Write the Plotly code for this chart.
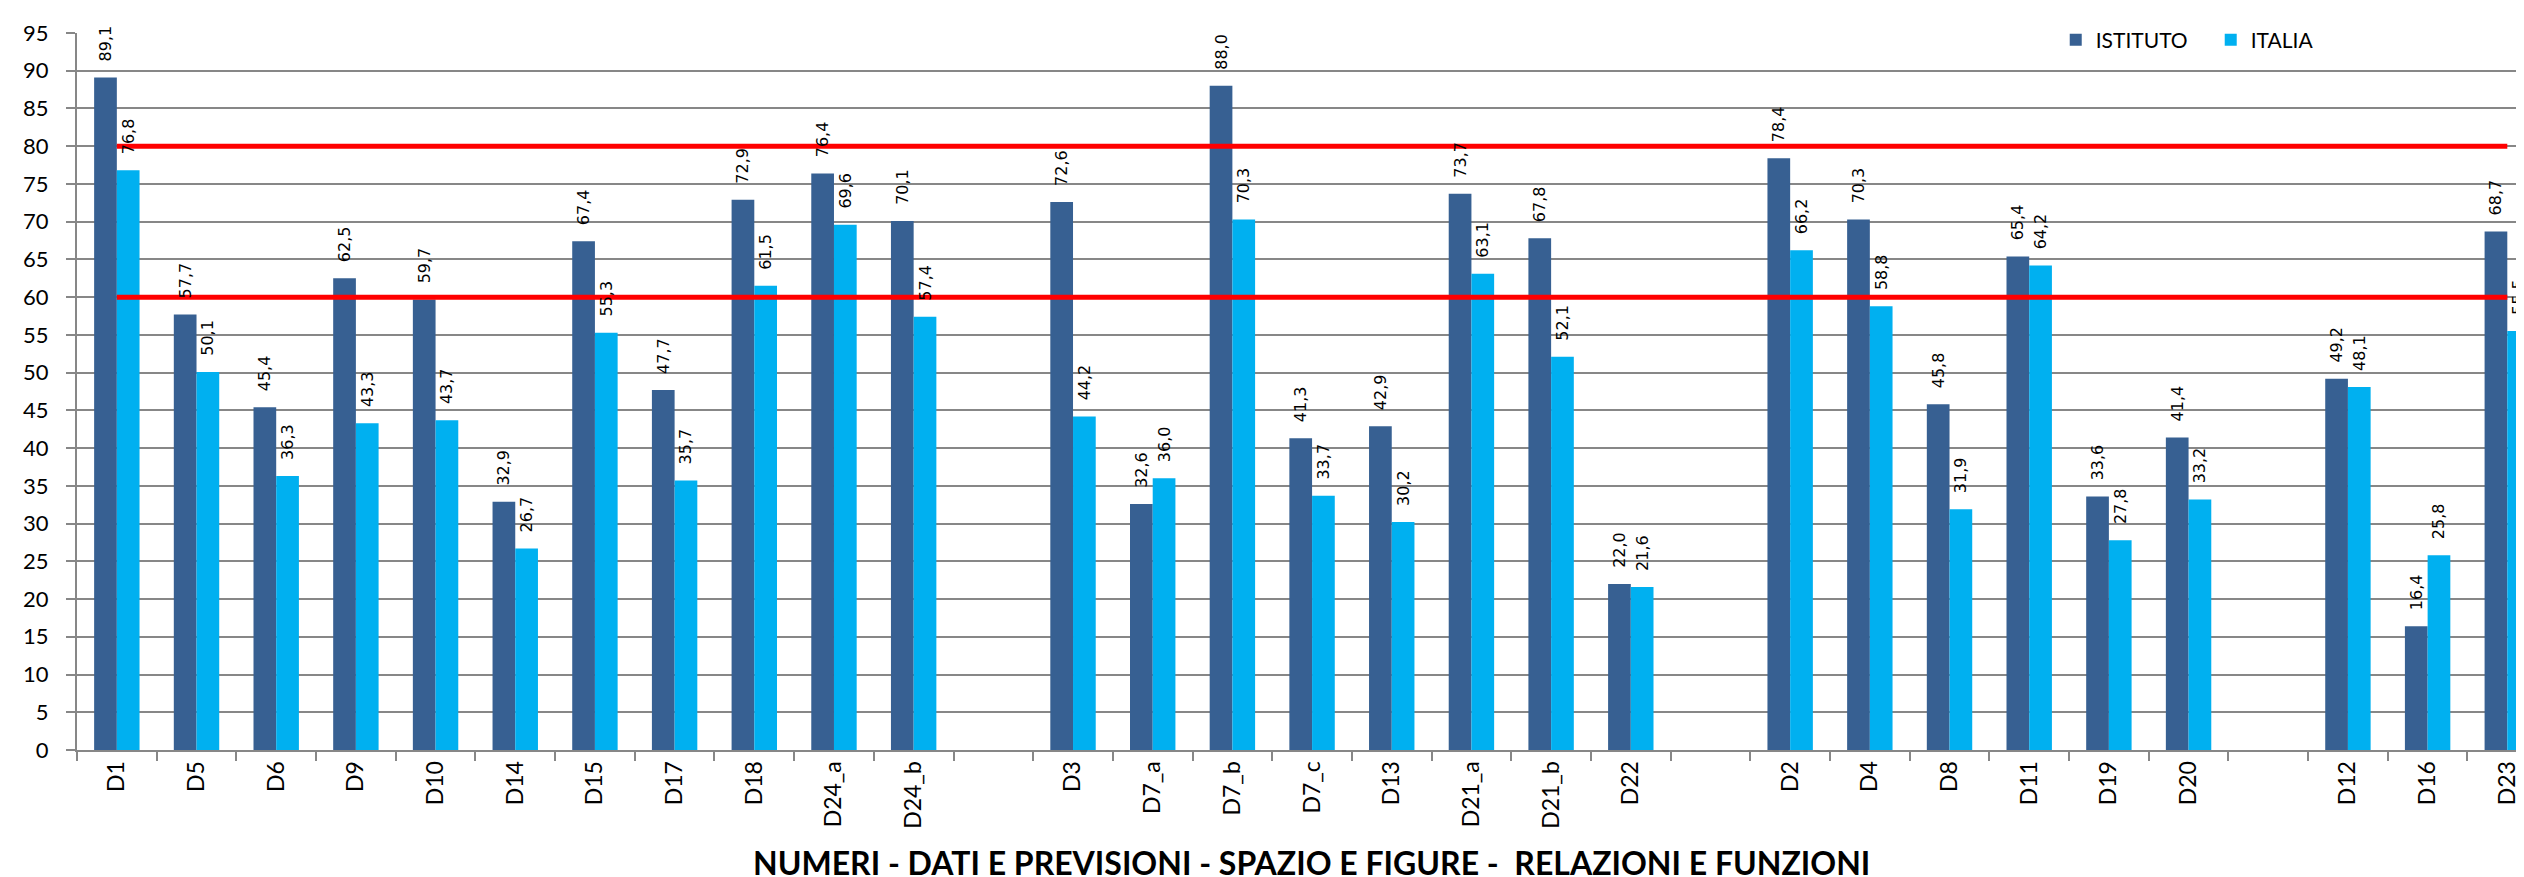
import plotly.graph_objects as go

categories = ["D1", "D5", "D6", "D9", "D10", "D14", "D15", "D17", "D18", "D24_a", "D24_b", " ",
              "D3", "D7_a", "D7_b", "D7_c", "D13", "D21_a", "D21_b", "D22", "  ",
              "D2", "D4", "D8", "D11", "D19", "D20", "   ",
              "D12", "D16", "D23"]

istituto = [89.1, 57.7, 45.4, 62.5, 59.7, 32.9, 67.4, 47.7, 72.9, 76.4, 70.1, None,
            72.6, 32.6, 88.0, 41.3, 42.9, 73.7, 67.8, 22.0, None,
            78.4, 70.3, 45.8, 65.4, 33.6, 41.4, None,
            49.2, 16.4, 68.7]

italia = [76.8, 50.1, 36.3, 43.3, 43.7, 26.7, 55.3, 35.7, 61.5, 69.6, 57.4, None,
          44.2, 36.0, 70.3, 33.7, 30.2, 63.1, 52.1, 21.6, None,
          66.2, 58.8, 31.9, 64.2, 27.8, 33.2, None,
          48.1, 25.8, 55.5]

soglia_alta = [80] * len(categories)
soglia_bassa = [60] * len(categories)

x_title = "NUMERI - DATI E PREVISIONI - SPAZIO E FIGURE -\u00a0 RELAZIONI E FUNZIONI"

C_IST = "#376092"
C_ITA = "#00B0F0"
GRID = "#878787"
XRANGE = [-0.5, 30.31]


def labels(vals):
    return ["" if v is None else "\u2002\u00a0" + f"{v:.1f}".replace(".", ",") for v in vals]


fig = go.Figure()
series = [("ISTITUTO", istituto, C_IST), ("ITALIA", italia, C_ITA)]

# coloured bars (bottom layer)
for name, vals, col in series:
    fig.add_trace(go.Bar(
        name=name, x=categories, y=vals, marker=dict(color=col, line=dict(width=0)),
        xaxis="x", yaxis="y",
    ))

# red threshold lines (above bars)
for vals in (soglia_alta, soglia_bassa):
    fig.add_trace(go.Scatter(
        x=categories, y=vals, mode="lines", showlegend=False, xaxis="x", yaxis="y",
        line=dict(color="#FF0000", width=5), hoverinfo="skip",
    ))

# value labels on an overlaying axis so they are drawn above the red lines
for name, vals, col in series:
    fig.add_trace(go.Bar(
        name=name + " valori", x=categories, y=vals, showlegend=False,
        marker=dict(color="rgba(0,0,0,0)", line=dict(width=0)),
        text=labels(vals), textposition="outside", textangle=-90,
        textfont=dict(family="DejaVu Sans", size=16, color="black"),
        cliponaxis=False, constraintext="none", hoverinfo="skip",
        xaxis="x2", yaxis="y",
    ))

fig.update_layout(
    width=2524, height=877,
    margin=dict(l=69, r=0, t=25, b=135),
    paper_bgcolor="white", plot_bgcolor="white",
    barmode="group", bargap=0.43, bargroupgap=0,
    font=dict(family="Lato", color="black"),
    showlegend=True,
    legend=dict(orientation="h", x=0.806, y=0.99, xanchor="left", yanchor="middle",
                bgcolor="rgba(0,0,0,0)", font=dict(family="Lato", size=21),
                itemwidth=30, entrywidth=110, tracegroupgap=0),
    xaxis=dict(
        type="category", categoryorder="array", categoryarray=categories,
        range=XRANGE, tickangle=-90, tickson="boundaries",
        ticks="outside", ticklen=9, tickwidth=2, tickcolor=GRID,
        showline=True, linecolor=GRID, linewidth=2,
        tickfont=dict(family="Lato", size=23), showgrid=False, fixedrange=True,
    ),
    xaxis2=dict(
        type="category", categoryorder="array", categoryarray=categories,
        range=XRANGE, overlaying="x", visible=False, showgrid=False,
    ),
    yaxis=dict(
        range=[0, 95], dtick=5, tick0=0,
        ticks="outside", ticklen=9, tickwidth=2, tickcolor=GRID,
        showline=True, linecolor=GRID, linewidth=2,
        showgrid=True, gridcolor=GRID, gridwidth=2, zeroline=False,
        tickfont=dict(family="Lato", size=22), ticklabelstandoff=13,
    ),
    annotations=[dict(
        text="<b>" + x_title + "</b>", xref="paper", yref="paper",
        x=0.503, y=-0.1875, xanchor="center", yanchor="bottom", showarrow=False,
        font=dict(family="Lato", size=32, color="black"),
    )],
)

fig.write_html("out.html")
